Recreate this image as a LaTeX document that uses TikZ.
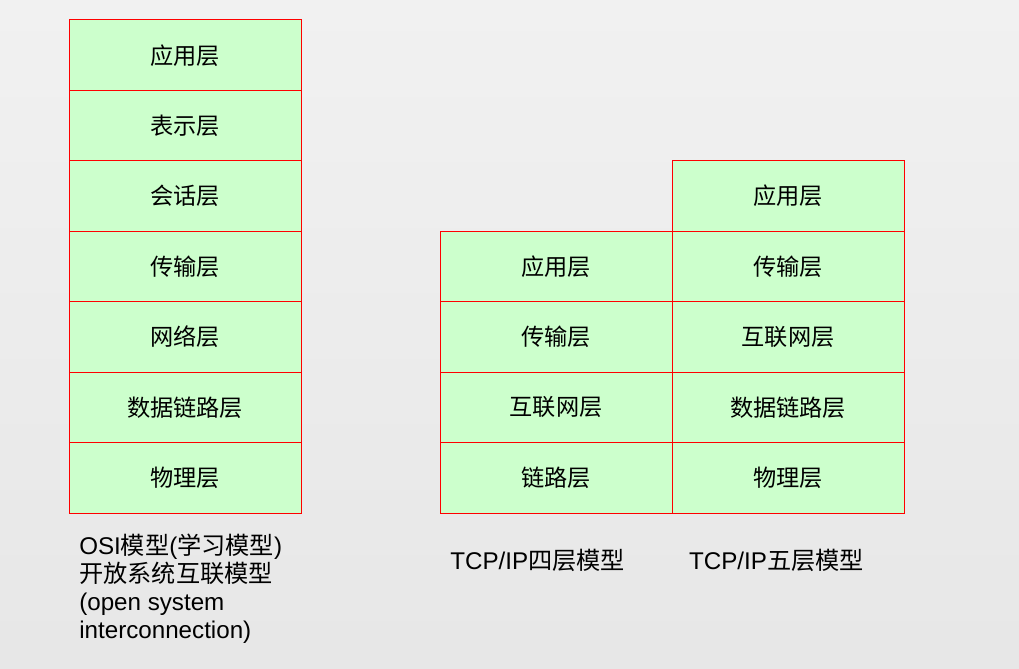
\documentclass[tikz,border=0pt]{standalone}
\usepackage{fontspec}
\setmainfont{Liberation Sans}
\newfontfamily\cjk{Noto Sans CJK SC}
\usetikzlibrary{positioning}

\definecolor{layergreen}{HTML}{CCFFCC}
\definecolor{layerred}{HTML}{FF0000}

\begin{document}
\begin{tikzpicture}[
    node distance=0cm,
    layer/.style={rectangle, draw=layerred, fill=layergreen, line width=0.7pt, minimum width=5.8cm, minimum height=1.761cm, outer sep=0pt, inner sep=0pt, font=\fontsize{16.5}{19.8}\selectfont\cjk},
    caption/.style={align=left, inner sep=0pt, font=\fontsize{17.2}{19.8}\selectfont}
]
% background
\shade[top color=gray!11, bottom color=gray!19] (0,0) rectangle (25.475,-16.7);
\useasboundingbox (0,0) rectangle (25.475,-16.7);

% OSI model
\node[layer] (osi1) at (4.625,-1.38) {应用层};
\node[layer, below=of osi1] (osi2) {表示层};
\node[layer, below=of osi2] (osi3) {会话层};
\node[layer, below=of osi3] (osi4) {传输层};
\node[layer, below=of osi4] (osi5) {网络层};
\node[layer, below=of osi5] (osi6) {数据链路层};
\node[layer, below=of osi6] (osi7) {物理层};

% TCP/IP four layers
\node[layer] (four1) at (13.9,-6.663) {应用层};
\node[layer, below=of four1] (four2) {传输层};
\node[layer, below=of four2] (four3) {互联网层};
\node[layer, below=of four3] (four4) {链路层};

% TCP/IP five layers
\node[layer, right=of four1, yshift=1.761cm] (five1) {应用层};
\node[layer, below=of five1] (five2) {传输层};
\node[layer, below=of five2] (five3) {互联网层};
\node[layer, below=of five3] (five4) {数据链路层};
\node[layer, below=of five4] (five5) {物理层};

% captions
\node[caption, anchor=north west] (osilabel) at (1.975,-13.35)
    {OSI{\cjk 模型}({\cjk 学习模型})\\{\cjk 开放系统互联模型}\\(open system\\interconnection)};
\node[caption, anchor=west] (fourlabel) at (11.25,-14.0) {TCP/IP{\cjk 四层模型}};
\node[caption, anchor=west] (fivelabel) at (17.22,-14.0) {TCP/IP{\cjk 五层模型}};
\end{tikzpicture}
\end{document}
